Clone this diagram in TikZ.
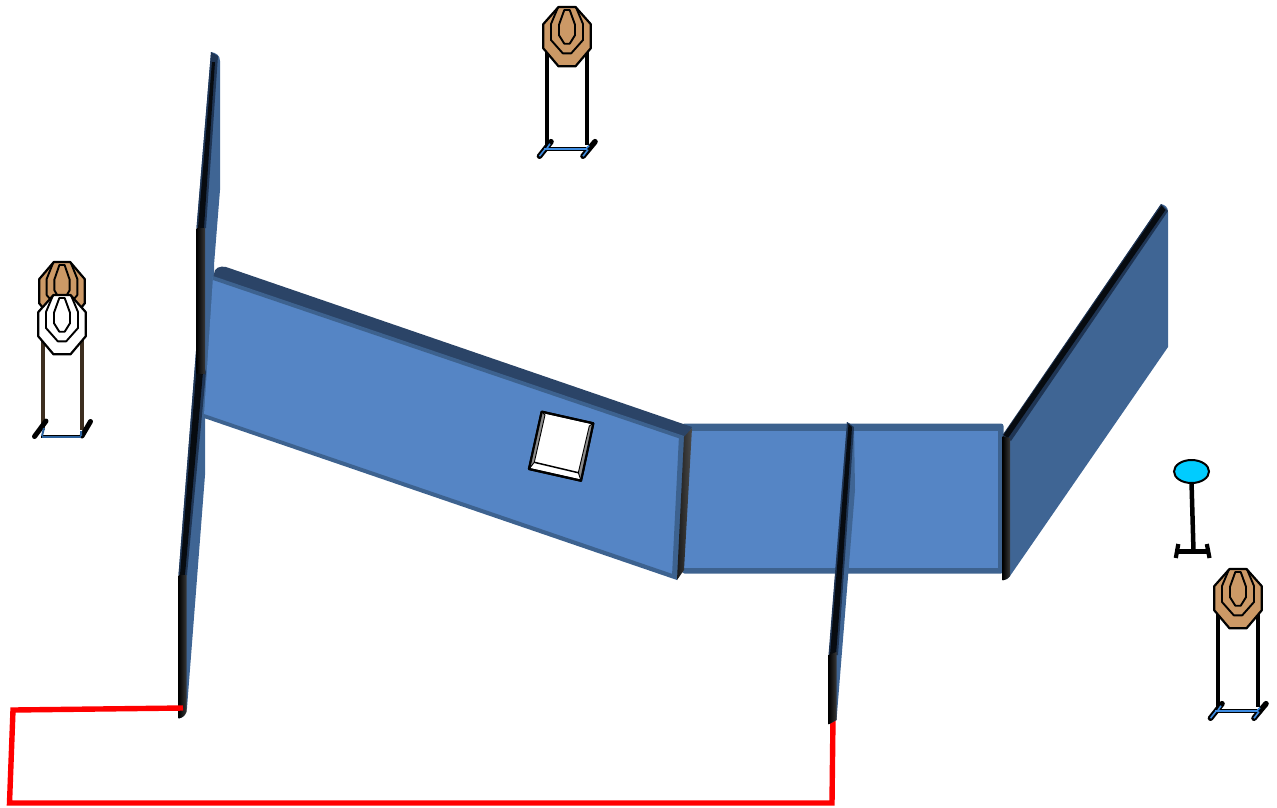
\documentclass[tikz,border=0pt]{standalone}
\definecolor{wallblue}{HTML}{3F6594}
\definecolor{faceblue}{HTML}{5585C5}
\definecolor{rimblue}{HTML}{3D628F}
\definecolor{topdark}{HTML}{2B4467}
\definecolor{bandnavy}{HTML}{1F3554}
\definecolor{bandblack}{HTML}{070B10}
\definecolor{tan}{HTML}{CC9966}
\definecolor{standblue}{HTML}{3D8BE0}
\definecolor{cyanball}{HTML}{00CCFF}
\tikzset{
  x=1pt,y=-1pt,
  wallface/.style={fill=wallblue,draw=none},
  panelface/.style={fill=faceblue,draw=none},
  rim/.style={fill=rimblue,draw=none},
  topstrip/.style={fill=topdark,draw=none},
  darkband/.style={fill=bandblack,draw=none},
  navyband/.style={fill=bandnavy,draw=none},
  vband/.style={left color=black,middle color=black,right color=black!78},
  redline/.style={draw=red,line width=5.4pt,line join=miter},
  outl/.style={draw=black,line width=2.2pt,line join=round},
  inl/.style={draw=black,line width=1.9pt,line join=round},
  legline/.style={draw=#1,line width=4pt},
  legline/.default=black,
  footout/.style={draw=black,line width=5.6pt,line cap=round},
  footin/.style={draw=standblue,line width=1.6pt},
  pics/targetface/.style={code={
    \path[outl,fill=#1] (-8.5,0.3) -- (8.5,0.3) -- (23.8,17.5) -- (23.8,41.5) -- (8.5,59.6) -- (-8.5,59.6) -- (-23.8,41.5) -- (-23.8,17.5) -- cycle;
    \path[inl] (-9,0.6) -- (-16,17.3) -- (-16,33.3) -- (-4.2,46.6) -- (4.2,46.6) -- (16,33.3) -- (16,17.3) -- (9,0.6);
    \path[inl] (-2.7,3.3) -- (2.7,3.3) -- (8,18) -- (8,28.5) -- (2.7,37) -- (-2.7,37) -- (-8,28.5) -- (-8,18) -- cycle;
  }},
  pics/targetstand/.style={code={
    \draw[legline] (-20,40) -- (-20,138);
    \draw[legline] (19.5,40) -- (19.5,138);
    \draw[footout] (-27.5,149.5) -- (-16,135);
    \draw[footout] (16,149.5) -- (28,135);
    \draw[draw=black,line width=4.4pt] (-23,142) -- (20,142);
    \draw[footin] (-23,142) -- (20,142);
    \draw[footin] (-27.5,149.5) -- (-22,142.5);
    \draw[footin] (16,149.5) -- (21,143);
    \draw[footin] (-20,141.5) -- (-17,137);
    \draw[footin] (19.5,141.5) -- (22,139);
  }}
}
\begin{document}
\begin{tikzpicture}
\useasboundingbox (0,0) rectangle (1277,807);
% left wall body
\path[wallface] (211,52) .. controls (216,53) and (220,55) .. (220,61) -- (220,190) -- (214,265) -- (214,372) -- (205,420) -- (205,475) -- (187,708) .. controls (186,714) and (183,718) .. (178.5,718.5) -- (178.5,575) -- (196.5,345) -- (196.5,228) -- cycle;
% left wall bands
\path[navyband] (211,52) -- (218,56) -- (206,228) -- (196.5,228) -- cycle;
\path[darkband] (212,62) -- (215,62) -- (204,228) -- (198,228) -- cycle;
\path[navyband] (196.5,345) -- (206,372) -- (187,575) -- (178.5,575) -- cycle;
\path[darkband] (198,350) -- (203,372) -- (185,575) -- (180,575) -- cycle;
\shade[vband] (196.5,228) rectangle (205,373);
\shade[vband] (178.5,575) -- (186.5,575) -- (186.5,712) .. controls (185,716) and (182,718) .. (178.5,718.5) -- cycle;
% panel 2
\path[rim,rounded corners=2.5pt] (682,423.5) -- (1003.5,423.5) -- (1003.5,573.5) -- (682,573.5) -- cycle;
\path[panelface] (682,431) rectangle (998,568);
% panel 1
\path[topstrip] (214,274) .. controls (214,268) and (220,265.5) .. (226,267) -- (692,427) -- (684,439) -- (213,279) -- cycle;
\path[panelface] (213,277) -- (684,437) -- (677,577) -- (204,415) -- cycle;
\path[rim] (204,414) -- (677,575.5) -- (677,580) -- (204,418) -- cycle;
\path[rim] (679,435.5) -- (685,437.5) -- (678,578) -- (672,576) -- cycle;
\path[rim] (213,276) -- (684,436) -- (684,440) -- (213,280) -- cycle;
\shade[left color=black!90,right color=black!70] (684,437) -- (692,428) -- (684,570) -- (677,580) -- cycle;
% window
\path[outl,fill=white] (541.7,411.7) -- (593.3,423.3) -- (581,480.7) -- (529,469) -- cycle;
\path[fill=black!45] (541.7,411.7) -- (545,415) -- (534.3,462.3) -- (529,469) -- cycle;
\path[fill=black!45] (593.3,423.3) -- (589.3,426) -- (578.3,472.7) -- (581,480.7) -- cycle;
\path[fill=white] (545,415) -- (589.3,426) -- (578.3,472.7) -- (534.3,462.3) -- cycle;
\path[draw=black,line width=1.5pt,line join=round] (534.3,462.3) -- (578.3,472.7);
\path[draw=black,line width=.9pt] (529,469) -- (534.3,462.3) (581,480.7) -- (578.3,472.7) (541.7,411.7) -- (545,415) -- (534.3,462.3) (593.3,423.3) -- (589.3,426) -- (578.3,472.7);
\path[outl] (541.7,411.7) -- (593.3,423.3) -- (581,480.7) -- (529,469) -- cycle;
% right wall
\path[wallface] (1161,204) .. controls (1165,205) and (1168,207) .. (1168,212) -- (1168,347) -- (1010,576) .. controls (1008,579) and (1005,580) .. (1003,580) -- (1003,436) -- cycle;
\path[navyband] (1161,204) -- (1168,211) -- (1011,441) -- (1002.5,435) -- cycle;
\path[darkband] (1161.5,205.5) -- (1165.5,210) -- (1008,438) -- (1003.5,435) -- cycle;
\shade[vband] (1002.5,436) -- (1010,438) -- (1010,576) .. controls (1008,579) and (1005,580) .. (1002.5,580.5) -- cycle;
% red line
\path[redline] (183,708) -- (13,710) -- (9.5,803) -- (832,803) -- (833,717);
% middle wall
\path[wallface] (847,422) -- (854,426) -- (855,490) -- (836.5,720) -- (829,724) -- (829,655) -- cycle;
\path[navyband] (847,422) -- (854,427) -- (842,600) -- (838,655) -- (828.5,655) -- cycle;
\path[darkband] (848.5,424) -- (852,427) -- (841,590) -- (836,655) -- (830,655) -- cycle;
\shade[vband] (828.5,655) -- (836.5,652) -- (836.5,720) -- (828.5,724.5) -- cycle;
% top target
\pic at (567,6.7) {targetstand};
\pic at (567,6.7) {targetface=tan};
% right target
\pic at (1238,568.7) {targetstand};
\pic at (1238,568.7) {targetface=tan};
% left target
\draw[legline=black!70!tan] (42.5,320) -- (42.5,430);
\draw[legline=black!70!tan] (81.5,320) -- (81.5,430);
\draw[footout,line width=5pt] (34.5,436.5) -- (46,421);
\draw[footout,line width=5pt] (82,436) -- (90.5,421.5);
\draw[draw=black,line width=3.8pt] (41,436.5) -- (83,436.5);
\draw[draw=standblue!70!black,line width=2pt] (42,436.5) -- (81,436.5);
\draw[draw=standblue!70!black,line width=2pt] (42,436) -- (44,428) (81,436) -- (81,431);
\pic[xscale=.96] at (62,261.7) {targetface=tan};
\pic at (62,294.7) {targetface=white};
% popper
\draw[draw=black,line width=4.5pt] (1191.5,482) -- (1193.5,551);
\draw[draw=black,line width=4.5pt] (1177,551.5) -- (1209,551.5);
\draw[draw=black,line width=4.2pt] (1178.3,544) -- (1175.8,558);
\draw[draw=black,line width=4.2pt] (1206.8,544) -- (1209.5,558);
\path[draw=black,line width=2pt,fill=cyanball] (1191.5,471.5) ellipse [x radius=17.5,y radius=11.5];
\end{tikzpicture}
\end{document}
